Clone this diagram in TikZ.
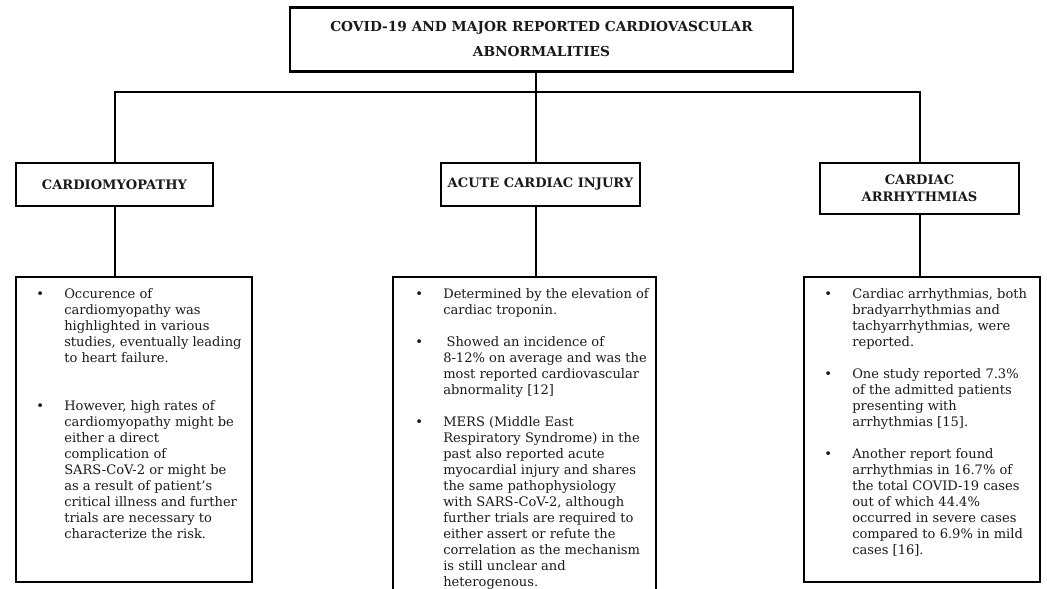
\documentclass[tikz,border=0pt]{standalone}
\usepackage{fontspec}
\setmainfont{DejaVu Serif}
\newcommand{\px}{0.75pt}
\newenvironment{blist}{\begin{tabular}{@{}p{21pt}@{}l@{}}}{\end{tabular}}

\begin{document}
\begin{tikzpicture}[x=\px, y=-\px,
  box/.style={draw, line width=1.7pt, inner sep=0pt, text=black!90},
  head/.style={box, align=center, font=\fontsize{9.8}{12.75}\selectfont\bfseries},
  txt/.style={anchor=north west, inner sep=0pt, text=black!90, font=\fontsize{9.8}{12}\selectfont},
  link/.style={line width=1.5pt}]

  \useasboundingbox (0,0) rectangle (1047,589);
  \clip (0,0) rectangle (1047,589);

  % title
  \node[head, font=\fontsize{10.3}{18.75}\selectfont\bfseries,
        minimum width=503*\px, minimum height=64*\px] (title) at (541.5,39.5)
       {COVID-19 AND MAJOR REPORTED CARDIOVASCULAR\\ABNORMALITIES};

  % three headings
  \node[head, minimum width=197*\px, minimum height=43*\px] (cmhead) at (114.5,184.5) {CARDIOMYOPATHY};
  \node[head, minimum width=199*\px, minimum height=43*\px] (acihead) at (540.5,184.5) {ACUTE CARDIAC INJURY};
  \node[head, minimum width=199*\px, minimum height=51*\px] (cahead) at (919.5,188.5) {CARDIAC\\ARRHYTHMIAS};

  % text boxes
  \node[box, minimum width=236*\px, minimum height=305*\px] (cmbody) at (134,429.5) {};
  \node[box, minimum width=263*\px, minimum height=363*\px] (acibody) at (524.5,458.5) {};
  \node[box, minimum width=236*\px, minimum height=305*\px] (cabody) at (922,429.5) {};

  % connectors
  \coordinate (bus) at (536,92);
  \draw[link] (title.south -| bus) -- (acihead.north -| bus);
  \draw[link] (cmhead.north) |- (bus) -| (cahead.north);
  \draw[link] (acihead.south -| bus) -- (acibody.north -| bus);
  \foreach \n in {cm,ca}
    \draw[link] (\n head.south) -- (\n head.south |- \n body.north);

  % bullet texts
  \node[txt] (cmtxt) at (36,287) {\begin{blist}
    \textbullet & Occurence of\\
    & cardiomyopathy was\\
    & highlighted in various\\
    & studies, eventually leading\\
    & to heart failure.\\
    &\\
    &\\
    \textbullet & However, high rates of\\
    & cardiomyopathy might be\\
    & either a direct\\
    & complication of\\
    & SARS-CoV-2 or might be\\
    & as a result of patient's\\
    & critical illness and further\\
    & trials are necessary to\\
    & characterize the risk.
  \end{blist}};

  \node[txt] (acitxt) at (415,287) {\begin{blist}
    \textbullet & Determined by the elevation of\\
    & cardiac troponin.\\
    &\\
    \textbullet & \hspace{2.5pt}Showed an incidence of\\
    & 8-12\% on average and was the\\
    & most reported cardiovascular\\
    & abnormality [12]\\
    &\\
    \textbullet & MERS (Middle East\\
    & Respiratory Syndrome) in the\\
    & past also reported acute\\
    & myocardial injury and shares\\
    & the same pathophysiology\\
    & with SARS-CoV-2, although\\
    & further trials are required to\\
    & either assert or refute the\\
    & correlation as the mechanism\\
    & is still unclear and\\
    & heterogenous.
  \end{blist}};

  \node[txt] (catxt) at (824,287) {\begin{blist}
    \textbullet & Cardiac arrhythmias, both\\
    & bradyarrhythmias and\\
    & tachyarrhythmias, were\\
    & reported.\\
    &\\
    \textbullet & One study reported 7.3\%\\
    & of the admitted patients\\
    & presenting with\\
    & arrhythmias [15].\\
    &\\
    \textbullet & Another report found\\
    & arrhythmias in 16.7\% of\\
    & the total COVID-19 cases\\
    & out of which 44.4\%\\
    & occurred in severe cases\\
    & compared to 6.9\% in mild\\
    & cases [16].
  \end{blist}};
\end{tikzpicture}
\end{document}
